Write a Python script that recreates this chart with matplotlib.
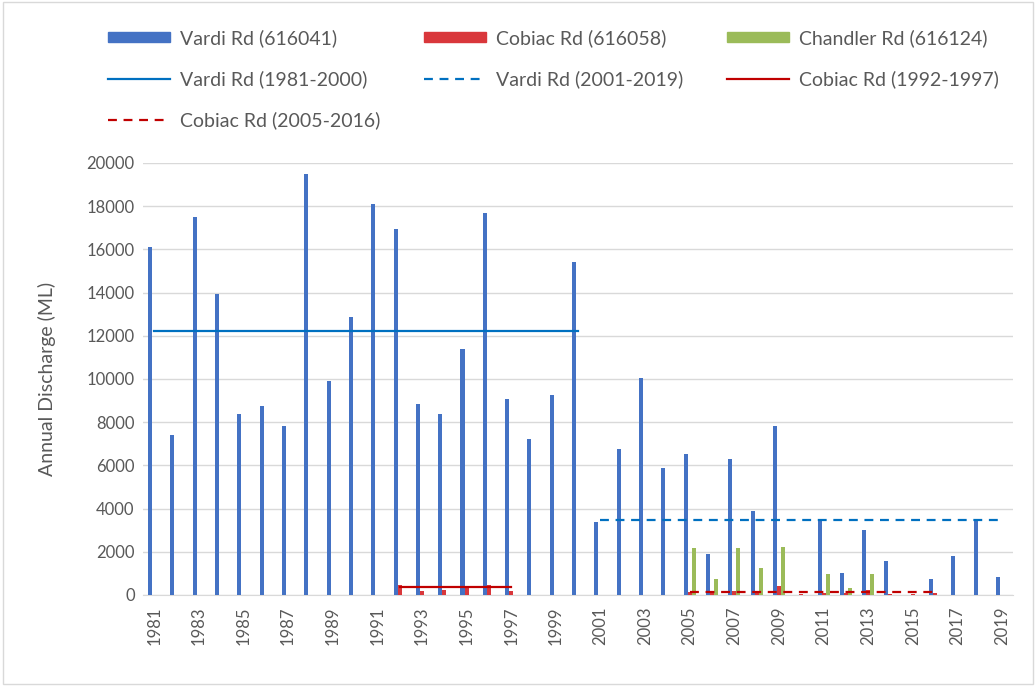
import matplotlib.pyplot as plt
import numpy as np
from matplotlib.lines import Line2D
from matplotlib.patches import Patch, Rectangle

plt.rcParams['font.family'] = ['Lato', 'DejaVu Sans']

years = list(range(1981, 2020))

# Annual discharge (ML); 0 = no bar
vardi = [16100, 7400, 17500, 13950, 8400, 8750, 7800, 19500, 9900, 12850,
         18100, 16950, 8850, 8400, 11400, 17700, 9050, 7200, 9250, 15400,
         3400, 6750, 10030, 5900, 6530, 1900, 6300, 3900, 7800, 0,
         3500, 1030, 3010, 1570, 0, 750, 1800, 3470, 850]
cobiac = [0] * 11 + [450, 200, 250, 300, 450, 200] + [0] * 7 + \
         [120, 150, 170, 140, 420, 60, 100, 80, 220, 60, 50, 80] + [0] * 3
chandler = [0] * 24 + [2160, 730, 2160, 1230, 2240, 0, 960, 310, 960] + [0] * 6

# Period averages (start year, end year, value)
vardi_avg_1 = (1981, 2000, 12240)
vardi_avg_2 = (2001, 2019, 3470)
cobiac_avg_1 = (1992, 1997, 385)
cobiac_avg_2 = (2005, 2016, 150)

blue = '#4472C4'
red = '#D9373B'
green = '#9BBB59'
line_blue = '#0070C0'
line_red = '#C00000'
grey = '#595959'

fig = plt.figure(figsize=(10.36, 6.86), dpi=100)
ax = fig.add_axes([0.138, 0.1327, 0.840, 0.6297])

x = np.arange(len(years))
w = 0.18
ax.bar(x - w, vardi, w, color=blue, zorder=3)
ax.bar(x, cobiac, w, color=red, zorder=3)
ax.bar(x + w, chandler, w, color=green, zorder=3)


def avg_line(period, color, style):
    i0 = years.index(period[0])
    i1 = years.index(period[1])
    ax.plot([i0, i1], [period[2], period[2]], color=color, ls=style,
            lw=1.6, zorder=4)


avg_line(vardi_avg_1, line_blue, '-')
avg_line(vardi_avg_2, line_blue, (0, (4, 3)))
avg_line(cobiac_avg_1, line_red, '-')
avg_line(cobiac_avg_2, line_red, (0, (4, 3)))

ax.set_xlim(-0.5, len(years) - 0.5)
ax.set_ylim(0, 20000)
ax.set_yticks(range(0, 20001, 2000))
ax.set_xticks(x[::2])
ax.set_xticklabels([str(y) for y in years[::2]], rotation=90)
ax.tick_params(axis='both', colors=grey, labelsize=12, length=0)
ax.tick_params(axis='x', pad=8)
ax.tick_params(axis='y', pad=6)
ax.grid(axis='y', color='#D9D9D9', lw=1, zorder=0)
for s in ['top', 'right', 'left']:
    ax.spines[s].set_visible(False)
ax.spines['bottom'].set_color('#D9D9D9')
ax.set_ylabel('Annual Discharge (ML)', fontsize=14, color=grey, labelpad=22)

handles = [
    Patch(color=blue, label='Vardi Rd (616041)'),
    Patch(color=red, label='Cobiac Rd (616058)'),
    Patch(color=green, label='Chandler Rd (616124)'),
    Line2D([], [], color=line_blue, lw=1.6, label='Vardi Rd (1981-2000)'),
    Line2D([], [], color=line_blue, lw=1.6, ls=(0, (4, 3)), label='Vardi Rd (2001-2019)'),
    Line2D([], [], color=line_red, lw=1.6, label='Cobiac Rd (1992-1997)'),
    Line2D([], [], color=line_red, lw=1.6, ls=(0, (4, 3)), label='Cobiac Rd (2005-2016)'),
]
# fill row-wise into three columns
order = [0, 3, 6, 1, 4, 2, 5]
leg = fig.legend([handles[i] for i in order], [handles[i].get_label() for i in order],
                 ncol=3, loc='upper left', bbox_to_anchor=(0.104, 0.958),
                 frameon=False, fontsize=14, handlelength=3.2, handleheight=0.4,
                 columnspacing=2.25, labelspacing=1.2, handletextpad=0.5,
                 borderpad=0, borderaxespad=0)
for t in leg.get_texts():
    t.set_color(grey)

fig.patches.append(Rectangle((0.003, 0.003), 0.994, 0.994, transform=fig.transFigure,
                             fill=False, edgecolor='#D9D9D9', lw=1))

fig.savefig('out.png', dpi=100)
